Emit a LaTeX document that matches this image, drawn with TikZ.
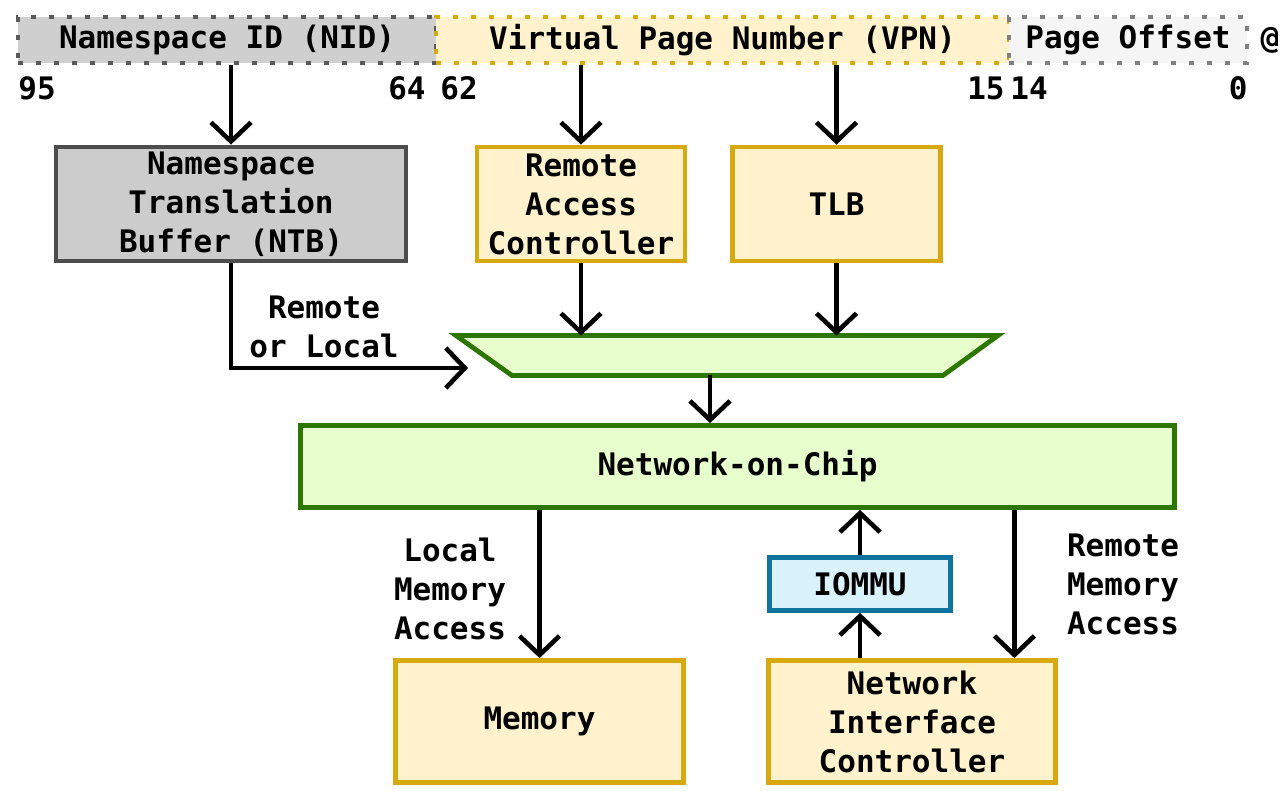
\documentclass[tikz,border=0pt]{standalone}
\usepackage{fontspec}
\setmainfont{DejaVu Sans Mono}
\usepackage{xcolor}
\usepackage{tikz}
\usetikzlibrary{arrows.meta}
\usetikzlibrary{positioning}

\definecolor{nidgray}{HTML}{CFCFCF}
\definecolor{nidedge}{HTML}{5A5A5A}
\definecolor{ntbgray}{HTML}{CCCCCC}
\definecolor{ntbedge}{HTML}{4D4D4D}
\definecolor{unityellow}{HTML}{FFF2CC}
\definecolor{unitedge}{HTML}{D6AA0F}
\definecolor{nocgreen}{HTML}{E6FFCC}
\definecolor{nocedge}{HTML}{2D7600}
\definecolor{mmublue}{HTML}{DAF2FC}
\definecolor{mmuedge}{HTML}{10739E}
\definecolor{offgray}{HTML}{F5F5F5}
\definecolor{offedge}{HTML}{808080}

\tikzset{
  myarrow/.style={
    draw=black,
    line width=2.3pt,
    -{Straight Barb[length=9.5pt,width=20pt,line width=2.3pt]},
  },
  myfont/.style={
    font=\fontsize{15.5}{19.5}\selectfont\bfseries
  },
  myfield/.style={
    myfont,
    shape=rectangle,
    line width=2.4pt,
    dash pattern=on 2.4pt off 6.6pt,
    minimum height=23pt,
    inner sep=0pt,
  },
  mybox/.style={
    myfont,
    shape=rectangle,
    line width=2.4pt,
    align=center,
    inner sep=0pt,
  },
  myunit/.style={
    mybox,
    draw=unitedge,
    fill=unityellow,
  },
  mymux/.style={
    draw=nocedge,
    fill=nocgreen,
    line width=2.4pt,
    line join=miter,
  },
  mylabel/.style={
    myfont,
    align=center,
    inner sep=0pt,
  },
  mybit/.style={
    myfont,
    inner sep=0pt,
  },
}

\begin{document}
\begin{tikzpicture}[x=0.5pt,y=-0.5pt]
    \useasboundingbox (0,0) rectangle (1281,791);

    % address fields
    \node[myfield, draw=nidedge, fill=nidgray, minimum width=209pt] (nid) at (227,40) {Namespace ID (NID)};
    \node[myfield, draw=unitedge, fill=unityellow, minimum width=286.5pt] (vpn) at (722.5,40) {Virtual Page Number (VPN)};
    \node[myfield, draw=offedge, fill=offgray, minimum width=119pt] (offset) at (1128,40) {Page Offset};
    \node[mybit] (next) at (1270,40) {@};

    \node[mybit, anchor=west] (b95) at (18,88) {95};
    \node[mybit, anchor=east] (b64) at (426,88) {64};
    \node[mybit, anchor=west] (b62) at (440,88) {62};
    \node[mybit, anchor=east] (b15) at (1005,88) {15};
    \node[mybit, anchor=west] (b14) at (1010,88) {14};
    \node[mybit, anchor=east] (b0) at (1248,88) {0};

    % translation units
    \node[mybox, draw=ntbedge, fill=ntbgray, minimum width=175pt, minimum height=57pt] (ntb) at (231,204) {Namespace\\Translation\\Buffer (NTB)};
    \node[myunit, minimum width=104pt, minimum height=57pt] (rac) at (581,204) {Remote\\Access\\Controller};
    \node[myunit, minimum width=104pt, minimum height=57pt] (tlb) at (836.5,204) {TLB};

    % selector between the two paths
    \coordinate (muxtl) at (456,335.5);
    \coordinate (muxtr) at (998,335.5);
    \coordinate (muxbr) at (943,375.5);
    \coordinate (muxbl) at (512,375.5);
    \coordinate (muxin) at (468,368);
    \coordinate (muxout) at (710,375.5);
    \draw[mymux] (muxtl) -- (muxtr) -- (muxbr) -- (muxbl) -- cycle;

    \node[mybox, draw=nocedge, fill=nocgreen, minimum width=437pt, minimum height=41pt] (noc) at (737.5,466.5) {Network-on-Chip};

    \node[mybox, draw=mmuedge, fill=mmublue, minimum width=90.5pt, minimum height=26.5pt] (iommu) at (860,584) {IOMMU};
    \node[myunit, minimum width=144pt, minimum height=61pt] (memory) at (539.5,721.5) {Memory};
    \node[myunit, minimum width=143.5pt, minimum height=61pt] (nic) at (912,721.5) {Network\\Interface\\Controller};

    \node[mylabel] (rol) at (324,327) {Remote\\or Local};
    \node[mylabel] (lma) at (450,589) {Local\\Memory\\Access};
    \node[mylabel] (rma) at (1123,584) {Remote\\Memory\\Access};

    \draw[myarrow] (ntb.north |- nid.south) -- (ntb.north);
    \draw[myarrow] (rac.north |- vpn.south) -- (rac.north);
    \draw[myarrow] (tlb.north |- vpn.south) -- (tlb.north);

    \draw[myarrow] (rac.south) -- (rac.south |- muxtl);
    \draw[myarrow] (tlb.south) -- (tlb.south |- muxtl);
    \draw[myarrow] (ntb.south) |- (muxin);

    \draw[myarrow] (muxout) -- (muxout |- noc.north);

    \draw[myarrow] (memory.north |- noc.south) -- (memory.north);
    \draw[myarrow] (iommu.south |- nic.north) -- (iommu.south);
    \draw[myarrow] (iommu.north) -- (iommu.north |- noc.south);
    \draw[myarrow] ([xshift=-21.75pt]nic.north east |- noc.south) -- ([xshift=-21.75pt]nic.north east);
  \end{tikzpicture}
\end{document}
